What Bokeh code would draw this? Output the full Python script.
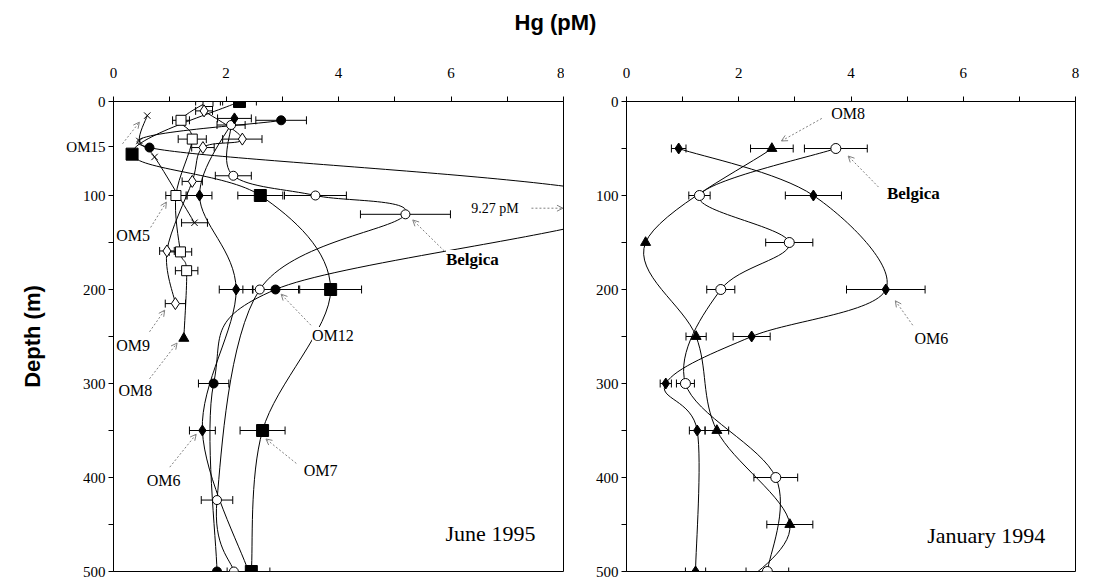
import numpy as np
from bokeh.plotting import figure
from bokeh.models import (Range1d, FixedTicker, Whisker, TeeHead, ColumnDataSource,
                          Label, Arrow, OpenHead)
from bokeh.layouts import row, column
from bokeh.embed import file_html
from bokeh.resources import INLINE

# ---------------- June 1995 (left panel) ----------------
om7_hg = [2.24, 0.33, 2.61, 3.86, 2.65, 2.45]
om7_depth = [0, 56, 100, 200, 350, 500]
om7_err = [0.3, 0, 0.4, 0.55, 0.4, 0]

om12_hg = [2.98, 0.64, 9.27, 2.88, 1.78, 1.84]
om12_depth = [20, 49, 107, 200, 300, 500]
om12_err = [0.45, 0, 0, 0.41, 0.27, 0]

belj_hg = [2.09, 2.13, 3.59, 5.19, 2.60, 1.84, 2.14]
belj_depth = [25, 79, 100, 120, 200, 424, 500]
belj_err = [0.25, 0.32, 0.55, 0.8, 0.3, 0.28, 0.3]

om6j_hg = [2.15, 1.53, 2.18, 1.58, 2.40]
om6j_depth = [18, 100, 200, 350, 500]
om6j_err = [0.3, 0.22, 0.3, 0.23, 0.38]

om5_hg = [1.68, 1.20, 1.40, 1.11, 1.19, 1.30]
om5_depth = [0, 20, 40, 100, 160, 180]
om5_err = [0.22, 0.15, 0.25, 0.18, 0.2, 0.2]

om8j_hg = [1.25]
om8j_depth = [252]
om8j_err = [0]

om9_hg = [1.61, 2.29, 1.59, 1.40, 0.95, 1.10]
om9_depth = [10, 40, 49, 85, 159, 215]
om9_err = [0.15, 0.35, 0.2, 0.18, 0.13, 0.18]

om15_hg = [0.60, 0.46, 0.73, 1.44]
om15_depth = [15, 42, 59, 129]
om15_err = [0, 0, 0, 0.23]

# ---------------- January 1994 (right panel) ----------------
om8_hg = [2.59, 0.34, 1.24, 1.61, 2.91, 1.95]
om8_depth = [50, 150, 250, 350, 450, 520]
om8_err = [0.38, 0, 0.18, 0.21, 0.41, 0]

bel_hg = [3.73, 1.30, 2.90, 1.68, 1.05, 2.66, 2.51]
bel_depth = [50, 100, 150, 200, 300, 400, 500]
bel_err = [0.56, 0.19, 0.42, 0.25, 0.16, 0.39, 0.38]

om6_hg = [0.93, 3.33, 4.62, 2.23, 0.70, 1.26, 1.23]
om6_depth = [50, 100, 200, 250, 300, 350, 500]
om6_err = [0.13, 0.5, 0.7, 0.33, 0.1, 0.14, 0.18]

x_ticks = [0, 2, 4, 6, 8]
depth_ticks = [0, 100, 200, 300, 400, 500]
om15_label_depth = 48

SERIF = "Liberation Serif"
NARROW = "Liberation Sans Narrow"


def smooth(p, xs, ys):
    x = np.asarray(xs, float)
    y = np.asarray(ys, float)
    n = len(x)
    if n < 2:
        return
    px = np.concatenate([[x[0]], x, [x[-1]]])
    py = np.concatenate([[y[0]], y, [y[-1]]])
    cx0 = x[:-1] + (px[2:n + 1] - px[0:n - 1]) / 6
    cy0 = y[:-1] + (py[2:n + 1] - py[0:n - 1]) / 6
    cx1 = x[1:] - (px[3:n + 2] - px[1:n]) / 6
    cy1 = y[1:] - (py[3:n + 2] - py[1:n]) / 6
    p.bezier(x0=x[:-1], y0=y[:-1], x1=x[1:], y1=y[1:], cx0=cx0, cy0=cy0,
             cx1=cx1, cy1=cy1, line_color="black", line_width=1)


def errbars(p, xs, ys, es):
    lo = [x - e for x, e in zip(xs, es) if e > 0]
    hi = [x + e for x, e in zip(xs, es) if e > 0]
    d = [y for y, e in zip(ys, es) if e > 0]
    if not d:
        return
    src = ColumnDataSource(dict(d=d, lo=lo, hi=hi))
    w = Whisker(source=src, base="d", lower="lo", upper="hi", dimension="width",
                line_color="black", line_width=1,
                upper_head=TeeHead(size=8, line_color="black", line_width=1),
                lower_head=TeeHead(size=8, line_color="black", line_width=1))
    p.add_layout(w)


def marks(p, xs, ys, marker, size, fill):
    p.scatter(xs, ys, marker=marker, size=size, fill_color=fill,
              line_color="black", line_width=1)


def panel(width, left, right, top, height, extra_tick=None):
    p = figure(width=width, height=height, x_range=Range1d(0, 8),
               y_range=Range1d(500, 0), x_axis_location="above",
               output_backend="svg", toolbar_location=None,
               min_border_left=left, min_border_right=right,
               min_border_top=top, min_border_bottom=9)
    p.xgrid.visible = False
    p.ygrid.visible = False
    p.outline_line_color = "black"
    p.outline_line_alpha = 1
    p.xaxis.ticker = FixedTicker(ticks=x_ticks, minor_ticks=[1, 3, 5, 7])
    minor = [50, 150, 250, 350, 450]
    ticks = list(depth_ticks)
    if extra_tick is not None:
        ticks = sorted(ticks + [extra_tick])
        minor = [m for m in minor if abs(m - extra_tick) > 10]
    p.yaxis.ticker = FixedTicker(ticks=ticks, minor_ticks=minor)
    for ax in (p.xaxis[0], p.yaxis[0]):
        ax.major_tick_out = 5
        ax.major_tick_in = 0
        ax.minor_tick_out = 5
        ax.minor_tick_in = 0
        ax.axis_line_color = "black"
        ax.major_tick_line_color = "black"
        ax.minor_tick_line_color = "black"
        ax.major_label_text_font = NARROW
        ax.major_label_text_font_size = "15px"
        ax.major_label_text_color = "black"
    p.xaxis.major_label_standoff = 19
    p.yaxis.major_label_standoff = 3
    return p


def label(p, x, y, text, align="left", size="16px", style="normal", bg=None,
          font=SERIF):
    lab = Label(x=x, y=y, text=text, text_align=align,
                text_baseline="middle", text_font=font, text_font_size=size,
                text_font_style=style, text_color="black")
    if bg:
        lab.background_fill_color = bg
    p.add_layout(lab)


def arrow(p, x0, y0, x1, y1):
    p.add_layout(Arrow(end=OpenHead(size=6, line_color="gray", line_width=1),
                       x_start=x0, y_start=y0, x_end=x1, y_end=y1,
                       line_color="gray", line_dash="2 2", line_width=1))


FH = 527
# ---------- left panel ----------
p1 = panel(564, 113, 1, 48, FH, extra_tick=om15_label_depth)
p1.yaxis.major_label_overrides = {om15_label_depth: "OM15"}
p1.yaxis.axis_label = "Depth (m)"
p1.yaxis.axis_label_text_font = "Liberation Sans"
p1.yaxis.axis_label_text_font_style = "bold"
p1.yaxis.axis_label_text_font_size = "22px"
p1.yaxis.axis_label_text_color = "black"
p1.yaxis.axis_label_standoff = 18

june = [
    (om7_hg, om7_depth, om7_err, "square", 12, "black"),
    (om12_hg, om12_depth, om12_err, "circle", 9, "black"),
    (belj_hg, belj_depth, belj_err, "circle", 9, "white"),
    (om6j_hg, om6j_depth, om6j_err, "diamond", 11, "black"),
    (om5_hg, om5_depth, om5_err, "square", 10, "white"),
    (om8j_hg, om8j_depth, om8j_err, "triangle", 10, "black"),
    (om9_hg, om9_depth, om9_err, "diamond", 12, "white"),
    (om15_hg, om15_depth, om15_err, "x", 9, "white"),
]
for xs, ys, es, m, s, f in june:
    errbars(p1, xs, ys, es)
for xs, ys, es, m, s, f in june:
    if xs is om5_hg:
        smooth(p1, om5_hg + om8j_hg, om5_depth + om8j_depth)
    elif xs is om8j_hg:
        pass
    else:
        smooth(p1, xs, ys)
for xs, ys, es, m, s, f in june:
    marks(p1, xs, ys, m, s, f)

arrow(p1, 0.16, 45, 0.46, 22)
label(p1, 0.05, 143, "OM5")
arrow(p1, 0.66, 134, 0.94, 107)
label(p1, 0.05, 260, "OM9")
arrow(p1, 0.64, 245, 0.91, 222)
label(p1, 0.09, 307, "OM8")
arrow(p1, 0.64, 295, 1.13, 257)
label(p1, 3.53, 249, "OM12", bg="white")
arrow(p1, 3.51, 238, 2.98, 205)
label(p1, 3.38, 393, "OM7")
arrow(p1, 3.25, 385, 2.71, 359)
label(p1, 1.19, 403, "OM6", align="right")
arrow(p1, 1.0, 389, 1.47, 354)
label(p1, 5.91, 168, "Belgica", size="17px", style="bold", bg="white")
arrow(p1, 5.88, 159, 5.32, 126)
label(p1, 6.36, 113.5, "9.27 pM", size="14px")
arrow(p1, 7.43, 113.5, 7.99, 113.5)
label(p1, 7.5, 460, "June 1995", align="right", size="22px")

# ---------- right panel ----------
p2 = panel(519, 62, 8, 48, FH)
jan = [
    (om8_hg, om8_depth, om8_err, "triangle", 10, "black"),
    (bel_hg, bel_depth, bel_err, "circle", 10, "white"),
    (om6_hg, om6_depth, om6_err, "diamond", 11, "black"),
]
for xs, ys, es, m, s, f in jan:
    errbars(p2, xs, ys, es)
for xs, ys, es, m, s, f in jan:
    smooth(p2, xs, ys)
for xs, ys, es, m, s, f in jan:
    marks(p2, xs, ys, m, s, f)

label(p2, 3.95, 13, "OM8", align="center")
arrow(p2, 3.48, 18, 2.76, 42)
label(p2, 4.64, 98, "Belgica", size="17px", style="bold")
arrow(p2, 4.49, 91, 3.95, 58)
label(p2, 5.13, 252, "OM6")
arrow(p2, 5.1, 238, 4.79, 212)
label(p2, 7.46, 462, "January 1994", align="right", size="22px")

# ---------- shared title ----------
t = figure(width=1083, height=53, x_range=Range1d(0, 1083), y_range=Range1d(0, 53),
           output_backend="svg", toolbar_location=None, min_border=0)
t.axis.visible = False
t.grid.visible = False
t.outline_line_color = None
t.add_layout(Label(x=555, y=31, text="Hg (pM)", text_align="center",
                   text_baseline="middle", text_font="Liberation Sans",
                   text_font_style="bold", text_font_size="22px",
                   text_color="black"))

layout = column(t, row(p1, p2))
open("out.html", "w").write(file_html(layout, INLINE))
